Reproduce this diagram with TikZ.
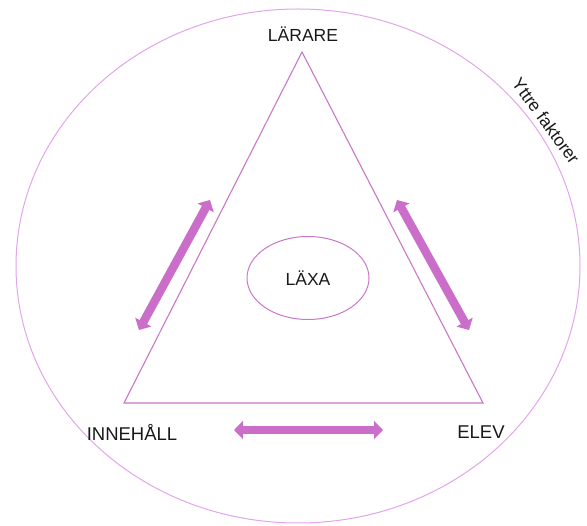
\documentclass[tikz,border=0pt]{standalone}
\usepackage{fontspec}
\setmainfont{Liberation Sans}
\usetikzlibrary{arrows.meta,shapes.geometric}
\definecolor{tri}{RGB}{200,120,200}
\definecolor{outer}{RGB}{226,165,236}
\definecolor{arr}{RGB}{202,110,202}
\tikzset{
  lbl/.style={font=\fontsize{17.5}{20}\selectfont, text=black!90, inner sep=0pt},
  biglbl/.style={lbl, font=\fontsize{18.5}{21}\selectfont},
  dblarrow/.style={arr, line width=8.5pt, {Triangle[width=18pt,length=9pt]}-{Triangle[width=18pt,length=9pt]}},
}
\begin{document}
\begin{tikzpicture}[x=1pt,y=-1pt]
\useasboundingbox (0,0) rectangle (587,526);
% outer ellipse
\draw[outer, line width=1pt] (298,266) ellipse [x radius=282, y radius=257];
% triangle
\coordinate (T) at (302,52);
\coordinate (BL) at (124,403);
\coordinate (BR) at (483,403);
\draw[tri, line width=1.1pt, line join=miter] (T) -- (BL) -- (BR) -- cycle;
% center ellipse
\node[draw=tri, line width=1pt, ellipse, minimum width=122pt, minimum height=83pt, lbl] (laxa) at (308,278) {LÄXA};
% labels
\node[lbl] (larare) at (303,34) {LÄRARE};
\node[biglbl] (innehall) at (132,432) {INNEHÅLL};
\node[biglbl] (elev) at (481,432) {ELEV};
\node[lbl, rotate=-54] (yttre) at (546,121) {Yttre faktorer};
% arrows
\coordinate (a1) at (139,330);
\coordinate (a2) at (210,200);
\coordinate (b1) at (397,200);
\coordinate (b2) at (469,330);
\coordinate (c1) at (234,430);
\coordinate (c2) at (383,430);
\draw[dblarrow] (a1) -- (a2);
\draw[dblarrow] (b1) -- (b2);
\draw[dblarrow] (c1) -- (c2);
\end{tikzpicture}
\end{document}
